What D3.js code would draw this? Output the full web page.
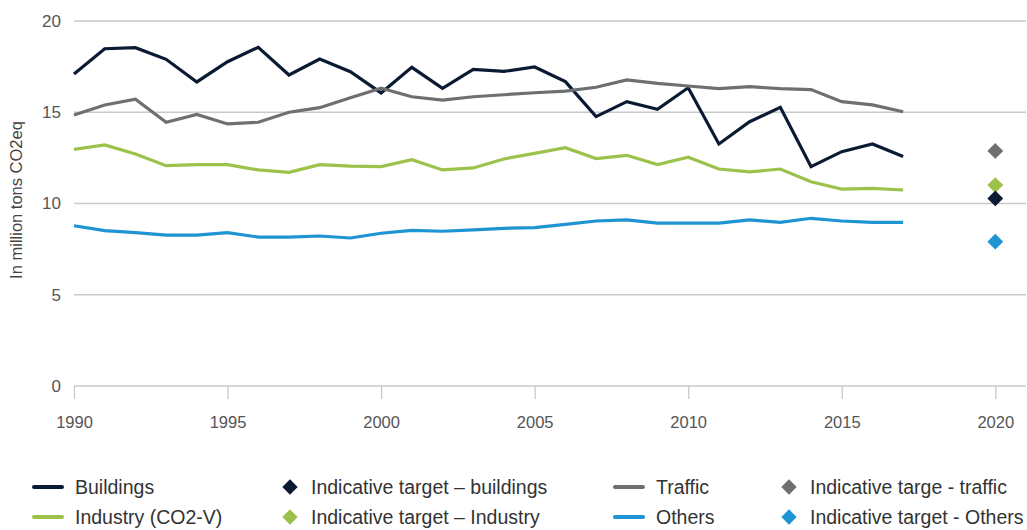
<!DOCTYPE html>
<html>
<head>
<meta charset="utf-8">
<script src="https://cdn.jsdelivr.net/npm/d3@7"></script>
<style>
  body { margin: 0; background: #fff; }
  svg { display: block; font-family: "Liberation Sans", Arial, sans-serif; }
</style>
</head>
<body>
<div id="chart"></div>
<script>
const years = d3.range(1990, 2018);

const buildings = [17.10, 18.48, 18.54, 17.90, 16.66, 17.77, 18.56, 17.04, 17.92, 17.22,
  16.06, 17.46, 16.31, 17.35, 17.24, 17.48, 16.68, 14.76, 15.58, 15.16,
  16.34, 13.26, 14.48, 15.27, 12.02, 12.84, 13.26, 12.57];
const traffic = [14.85, 15.40, 15.71, 14.45, 14.88, 14.36, 14.45, 15.00, 15.25, 15.80,
  16.32, 15.85, 15.67, 15.85, 15.96, 16.07, 16.16, 16.37, 16.77, 16.58,
  16.44, 16.29, 16.40, 16.29, 16.24, 15.58, 15.40, 15.03];
const industry = [12.97, 13.21, 12.71, 12.07, 12.13, 12.13, 11.84, 11.71, 12.13, 12.05,
  12.02, 12.40, 11.84, 11.95, 12.44, 12.75, 13.06, 12.46, 12.64, 12.13,
  12.54, 11.89, 11.73, 11.89, 11.19, 10.79, 10.83, 10.74];
const others = [8.78, 8.51, 8.40, 8.27, 8.27, 8.40, 8.16, 8.16, 8.22, 8.11,
  8.37, 8.53, 8.48, 8.55, 8.64, 8.68, 8.86, 9.04, 9.10, 8.92,
  8.92, 8.92, 9.10, 8.97, 9.19, 9.04, 8.97, 8.97];

const targetYear = 2020;
const targets = [
  { name: 'traffic', value: 12.88 },
  { name: 'industry', value: 11.01 },
  { name: 'buildings', value: 10.28 },
  { name: 'others', value: 7.91 }
];

const yTicks = [0, 5, 10, 15, 20];
const xTicks = [1990, 1995, 2000, 2005, 2010, 2015, 2020];

const COLORS = {
  buildings: '#0b1a33',
  traffic: '#6e6f71',
  industry: '#9cc24b',
  others: '#1e94d3'
};

const series = [
  { name: 'buildings', values: buildings },
  { name: 'traffic', values: traffic },
  { name: 'industry', values: industry },
  { name: 'others', values: others }
];

const legendItems = [
  { kind: 'line', key: 'buildings', label: 'Buildings', col: 0, row: 0 },
  { kind: 'diamond', key: 'buildings', label: 'Indicative target – buildings', col: 1, row: 0 },
  { kind: 'line', key: 'traffic', label: 'Traffic', col: 2, row: 0 },
  { kind: 'diamond', key: 'traffic', label: 'Indicative targe - traffic', col: 3, row: 0 },
  { kind: 'line', key: 'industry', label: 'Industry (CO2-V)', col: 0, row: 1 },
  { kind: 'diamond', key: 'industry', label: 'Indicative target – Industry', col: 1, row: 1 },
  { kind: 'line', key: 'others', label: 'Others', col: 2, row: 1 },
  { kind: 'diamond', key: 'others', label: 'Indicative target - Others', col: 3, row: 1 }
];

const width = 1027, height = 530;
const svg = d3.select('#chart').append('svg')
  .attr('width', width)
  .attr('height', height);

const x = d3.scaleLinear().domain([1990, 2021]).range([74, 1026]);
const y = d3.scaleLinear().domain([0, 20]).range([386, 21]);

// Gridlines
svg.append('g').selectAll('line')
  .data(yTicks)
  .join('line')
  .attr('x1', x(1990)).attr('x2', x(2021))
  .attr('y1', d => y(d)).attr('y2', d => y(d))
  .attr('stroke', '#c9c9c9')
  .attr('stroke-width', 1.3);

// Y labels
svg.append('g').selectAll('text')
  .data(yTicks)
  .join('text')
  .attr('x', 61)
  .attr('y', d => y(d))
  .attr('dy', '0.35em')
  .attr('text-anchor', 'end')
  .attr('font-size', 17)
  .attr('fill', '#555')
  .text(d => d);

// X axis ticks
const xAxis = d3.axisBottom(x)
  .tickValues(xTicks)
  .tickFormat(d3.format('d'))
  .tickSize(13)
  .tickPadding(17);
const xg = svg.append('g')
  .attr('transform', `translate(0,${y(0)})`)
  .call(xAxis);
xg.select('.domain').remove();
xg.selectAll('.tick line').attr('stroke', '#c9c9c9').attr('stroke-width', 1.3);
xg.selectAll('.tick text')
  .attr('font-size', 16.5)
  .attr('font-family', '"Liberation Sans", Arial, sans-serif')
  .attr('fill', '#555');

// Y axis title
svg.append('text')
  .attr('transform', 'translate(22,200) rotate(-90)')
  .attr('text-anchor', 'middle')
  .attr('font-size', 16.5)
  .attr('fill', '#444')
  .text('In million tons CO2eq');

// Lines
const line = d3.line()
  .x((d, i) => x(years[i]))
  .y(d => y(d));

svg.append('g').selectAll('path')
  .data(series)
  .join('path')
  .attr('d', d => line(d.values))
  .attr('fill', 'none')
  .attr('stroke', d => COLORS[d.name])
  .attr('stroke-width', 3.2)
  .attr('stroke-linejoin', 'miter');

// Target diamonds
const diamond = d3.symbol().type(d3.symbolDiamond2);
svg.append('g').selectAll('path')
  .data(targets)
  .join('path')
  .attr('transform', d => `translate(${x(targetYear)},${y(d.value)})`)
  .attr('d', diamond.size(160)())
  .attr('fill', d => COLORS[d.name]);

// Legend
const colX = [32, 282, 613, 781];
const rowY = [487, 517];
const lg = svg.append('g');
legendItems.forEach(it => {
  const gx = colX[it.col], gy = rowY[it.row];
  let textX;
  if (it.kind === 'line') {
    lg.append('line')
      .attr('x1', gx + 2).attr('x2', gx + 30)
      .attr('y1', gy).attr('y2', gy)
      .attr('stroke', COLORS[it.key])
      .attr('stroke-width', 4)
      .attr('stroke-linecap', 'round');
    textX = gx + 43;
  } else {
    lg.append('path')
      .attr('transform', `translate(${gx + 8},${gy})`)
      .attr('d', diamond.size(150)())
      .attr('fill', COLORS[it.key]);
    textX = gx + 29;
  }
  lg.append('text')
    .attr('x', textX)
    .attr('y', gy)
    .attr('dy', '0.35em')
    .attr('font-size', 19.5)
    .attr('fill', '#333')
    .text(it.label);
});
</script>
</body>
</html>
